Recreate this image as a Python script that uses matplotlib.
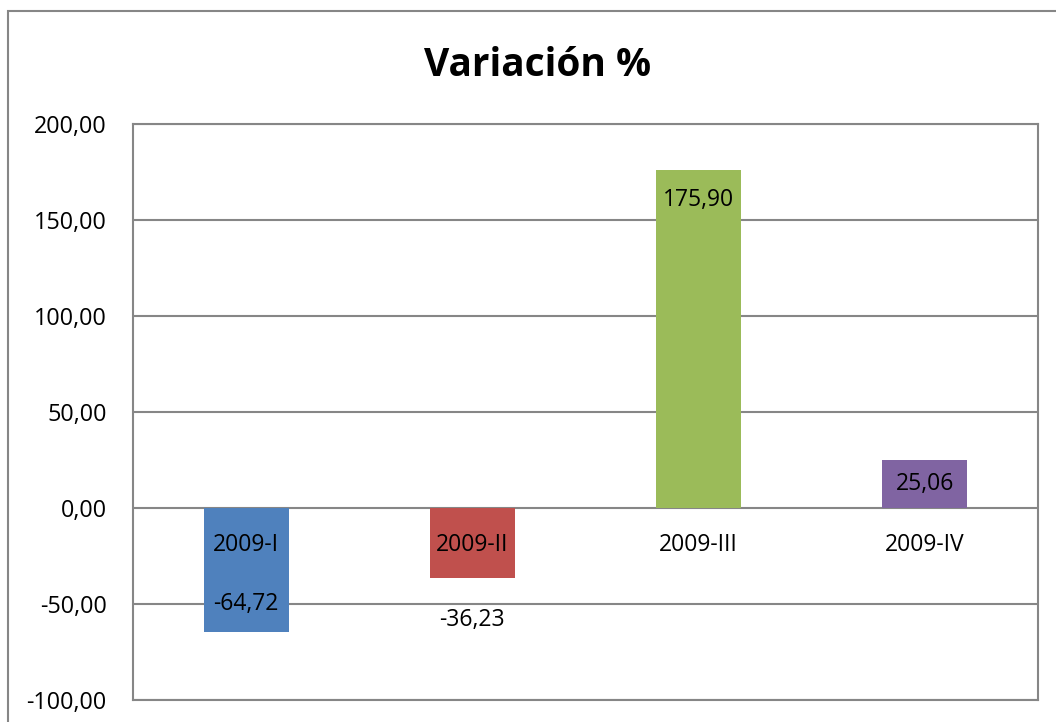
import matplotlib.pyplot as plt
from matplotlib.patches import Rectangle

# Data
categories = ['2009-I', '2009-II', '2009-III', '2009-IV']
values = [-64.72, -36.23, 175.90, 25.06]
colors = ['#4f81bd', '#c0504d', '#9bbb59', '#8064a2']
# label offsets (pixels) relative to bar end
label_offsets = [28, -42, -30, -24]

plt.rcParams['font.family'] = ['Open Sans', 'DejaVu Sans']

fig = plt.figure(figsize=(10.56, 7.22), dpi=100)
W, H = 1056, 722
ax = fig.add_axes([133 / W, 22 / H, 905 / W, 576 / H])

grid_color = '#868686'
x = range(len(categories))
ax.bar(x, values, width=0.375, color=colors, zorder=3)

ax.set_xlim(-0.5, 3.5)
ax.set_ylim(-100, 200)
ax.set_yticks(range(-100, 201, 50))
ax.set_yticklabels([f'{v:.2f}'.replace('.', ',') for v in range(-100, 201, 50)])
ax.tick_params(axis='y', length=0, pad=19, labelsize=16.8)
ax.set_xticks([])
ax.yaxis.grid(True, color=grid_color, linewidth=1.5, zorder=0)
for s in ax.spines.values():
    s.set_color(grid_color)
    s.set_linewidth(1.5)

# category labels next to the zero line
for i, c in enumerate(categories):
    ax.annotate(c, (i, 0), xytext=(0, -37), textcoords='offset pixels',
                ha='center', va='center', fontsize=16.5, zorder=4)

# value labels
for i, v in enumerate(values):
    ax.annotate(f'{v:.2f}'.replace('.', ','), (i, v), xytext=(0, label_offsets[i]),
                textcoords='offset pixels', ha='center', va='center',
                fontsize=16.5, zorder=4)

# title
fig.text(538 / W, 1 - 65 / H, 'Variación %', ha='center', va='center',
         fontsize=28, fontweight='bold')

# outer chart frame
fig.patches.append(Rectangle((8 / W, -0.1), 1.2, 1 - 11 / H + 0.1,
                             transform=fig.transFigure, fill=False,
                             edgecolor=grid_color, linewidth=1.5))

plt.savefig('out.png', dpi=100)
